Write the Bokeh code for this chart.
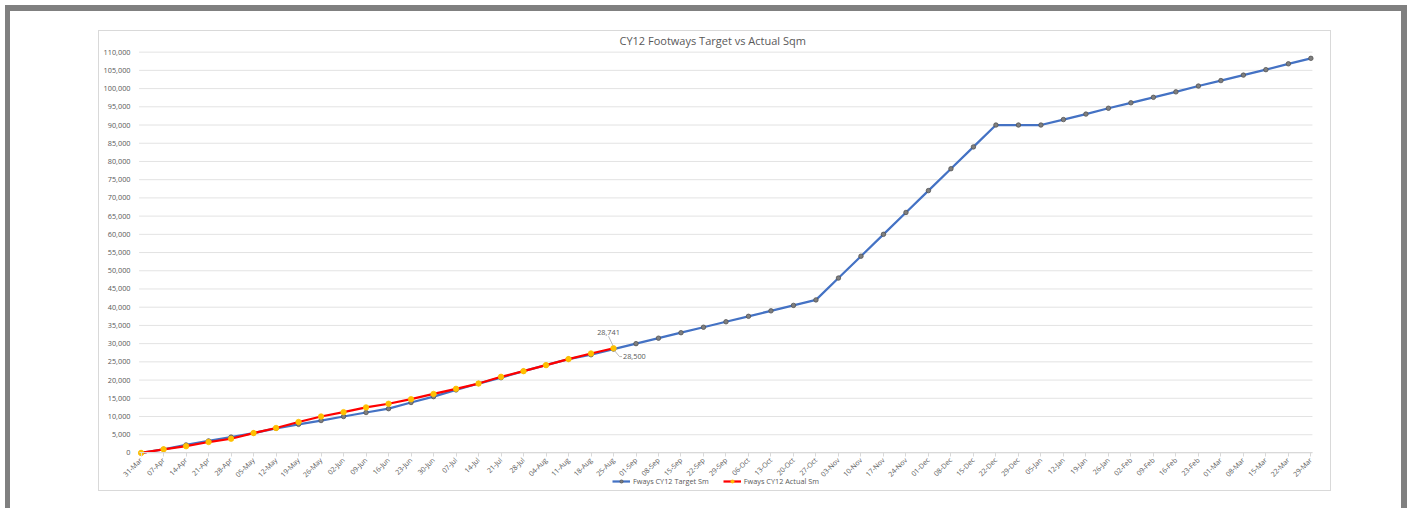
import math
from bokeh.plotting import figure
from bokeh.models import (ColumnDataSource, NumeralTickFormatter, FixedTicker,
                          Legend, LegendItem)
from bokeh.core.properties import value
from bokeh.embed import file_html
from bokeh.resources import INLINE

# ---------------- data ----------------
weeks = ["31-Mar", "07-Apr", "14-Apr", "21-Apr", "28-Apr", "05-May", "12-May", "19-May",
         "26-May", "02-Jun", "09-Jun", "16-Jun", "23-Jun", "30-Jun", "07-Jul", "14-Jul",
         "21-Jul", "28-Jul", "04-Aug", "11-Aug", "18-Aug", "25-Aug", "01-Sep", "08-Sep",
         "15-Sep", "22-Sep", "29-Sep", "06-Oct", "13-Oct", "20-Oct", "27-Oct", "03-Nov",
         "10-Nov", "17-Nov", "24-Nov", "01-Dec", "08-Dec", "15-Dec", "22-Dec", "29-Dec",
         "05-Jan", "12-Jan", "19-Jan", "26-Jan", "02-Feb", "09-Feb", "16-Feb", "23-Feb",
         "01-Mar", "08-Mar", "15-Mar", "22-Mar", "29-Mar"]

target_sm = [0, 1000, 2200, 3300, 4350, 5450, 6750, 7850, 8900, 10000, 11100, 12150,
             13850, 15450, 17300, 19050, 20650, 22450, 24100, 25750, 26950, 28500,
             30000, 31500, 33000, 34500, 36000, 37500, 39000, 40500, 42000,
             48000, 54000, 60000, 66000, 72000, 78000, 84000, 90000,
             90000, 90000,
             91500, 93000, 94600, 96100, 97600, 99100, 100700, 102200, 103700,
             105200, 106800, 108300]

actual_sm = [0, 1000, 1850, 3000, 3900, 5450, 6850, 8500, 10000, 11200, 12500, 13500,
             14750, 16200, 17600, 19050, 20900, 22450, 24100, 25750, 27300, 28741]

y_ticks = list(range(0, 110001, 5000))

series_names = ["Fways CY12 Target Sm", "Fways CY12 Actual Sm"]
title_text = "CY12 Footways Target vs Actual Sqm"

# ---------------- layout constants ----------------
W, H = 1416, 508
FL, FR, FT, FB = 110, 1316, 48, 500          # frame edges (canvas px)
XR = (-1.36, 52.25)
YR = (-13050, 111000)
px_x = (FR - FL) / (XR[1] - XR[0])            # px per x unit
px_y = (FB - FT) / (YR[1] - YR[0])            # px per y unit
X_LO, X_HI = -0.09, 52.07                     # plot-area extent (data units)

TXT = "#595959"
FONT = "Open Sans"
GREY = "#808080"
BOXC = "#d9d9d9"
GRIDC = "#e3e3e3"

# outer grey frame + light chart-area box painted as the element background
rects = [
    (GREY, 5, 5, 1402, 6),        # top bar
    (GREY, 5, 5, 5, 503),         # left bar
    (GREY, 1401, 5, 6, 503),      # right bar
    (BOXC, 98, 30, 1233, 1),      # chart box top
    (BOXC, 98, 490, 1233, 1),     # chart box bottom
    (BOXC, 98, 30, 1, 461),       # chart box left
    (BOXC, 1330, 30, 1, 461),     # chart box right
]
bg_styles = {
    "background-color": "white",
    "background-image": ", ".join(f"linear-gradient({c}, {c})" for c, *_ in rects),
    "background-position": ", ".join(f"{x}px {y}px" for _, x, y, _w, _h in rects),
    "background-size": ", ".join(f"{w}px {h}px" for *_, w, h in rects),
    "background-repeat": ", ".join("no-repeat" for _ in rects),
}

p = figure(width=W, height=H, output_backend="svg", toolbar_location=None,
           x_range=XR, y_range=YR,
           min_border_left=FL, min_border_right=W - FR,
           min_border_top=FT, min_border_bottom=H - FB,
           background_fill_alpha=0, border_fill_alpha=0,
           outline_line_color=None, styles=bg_styles)

# title
p.title.text = title_text
p.title.align = "left"
p.title.offset = 484 + (135 - FL)
p.title.text_font = FONT
p.title.text_font_size = "11px"
p.title.text_font_style = "normal"
p.title.text_color = TXT
p.title.standoff = 2

# x axis, pinned at y = 0 inside the (extended) frame
xa = p.xaxis[0]
xa.ticker = FixedTicker(ticks=list(range(len(weeks))))
xa.major_label_overrides = {i: w for i, w in enumerate(weeks)}
xa.major_label_orientation = math.pi / 4
xa.fixed_location = 0
xa.bounds = (X_LO, X_HI)
xa.axis_line_color = BOXC
xa.major_tick_line_color = BOXC
xa.major_tick_out = 4
xa.major_tick_in = 0
xa.minor_tick_line_color = None
xa.major_label_text_font = FONT
xa.major_label_text_font_size = "7px"
xa.major_label_text_color = TXT
xa.major_label_standoff = 2

# y axis (labels pulled in so they end just left of the plot area)
ya = p.yaxis[0]
ya.ticker = FixedTicker(ticks=y_ticks)
ya.formatter = NumeralTickFormatter(format="0,0")
ya.axis_line_color = None
ya.major_tick_line_color = None
ya.major_tick_out = 0
ya.major_tick_in = 0
ya.minor_tick_line_color = None
ya.major_label_standoff = FL - 130
ya.major_label_text_font = FONT
ya.major_label_text_font_size = "7.3px"
ya.major_label_text_color = TXT

# horizontal gridlines limited to the plot area
p.xgrid.visible = False
p.ygrid.visible = False
n = len(y_ticks)
p.segment(x0=[X_LO] * n, x1=[X_HI] * n, y0=y_ticks, y1=y_ticks,
          line_color=GRIDC, line_width=1, level="underlay")

# series
src_t = ColumnDataSource(dict(x=list(range(len(target_sm))), y=target_sm))
src_a = ColumnDataSource(dict(x=list(range(len(actual_sm))), y=actual_sm))

t_line = p.line("x", "y", source=src_t, line_color="#4472C4", line_width=2.25)
t_pts = p.scatter("x", "y", source=src_t, size=4.5, fill_color="#7F7F7F",
                  line_color="#505050", line_width=0.75)
a_line = p.line("x", "y", source=src_a, line_color="#FF0000", line_width=2.25)
a_pts = p.scatter("x", "y", source=src_a, size=5.5, fill_color="#FFC000",
                  line_color="#FFC000", line_width=0.75)

# data labels on the last actual point
xi = len(actual_sm) - 1
a_last = actual_sm[xi]
t_last = target_sm[xi]
p.text(x=[xi], y=[a_last], text=[f"{a_last:,}"], x_offset=-5, y_offset=-16,
       text_align="center", text_baseline="middle", text_font=value(FONT),
       text_font_size="7.3px", text_color=TXT)
p.text(x=[xi], y=[t_last], text=[f"{t_last:,}"], x_offset=9.5, y_offset=7.5,
       text_align="left", text_baseline="middle", text_font=value(FONT),
       text_font_size="7.3px", text_color=TXT)

# leader lines (pixel offsets converted through the scale)
p.line(x=[xi - 5 / px_x, xi - 0.5 / px_x], y=[a_last + 12 / px_y, a_last + 2.5 / px_y],
       line_color="#a6a6a6", line_width=0.75)
p.line(x=[xi + 1 / px_x, xi + 6 / px_x, xi + 8.5 / px_x],
       y=[t_last - 1.5 / px_y, t_last - 7.5 / px_y, t_last - 7.5 / px_y],
       line_color="#a6a6a6", line_width=0.75)

# legend (inside the extended frame, under the axis labels)
legend = Legend(items=[LegendItem(label=series_names[0], renderers=[t_line, t_pts]),
                       LegendItem(label=series_names[1], renderers=[a_line, a_pts])],
                orientation="horizontal", location=(612 - FL, 14),
                border_line_color=None, background_fill_alpha=0,
                label_text_font=FONT, label_text_font_size="7.3px",
                label_text_color=TXT, glyph_width=18, glyph_height=8,
                label_standoff=3, spacing=14, padding=0, margin=0, label_height=8)
p.add_layout(legend, "center")

open("out.html", "w").write(file_html(p, INLINE))
